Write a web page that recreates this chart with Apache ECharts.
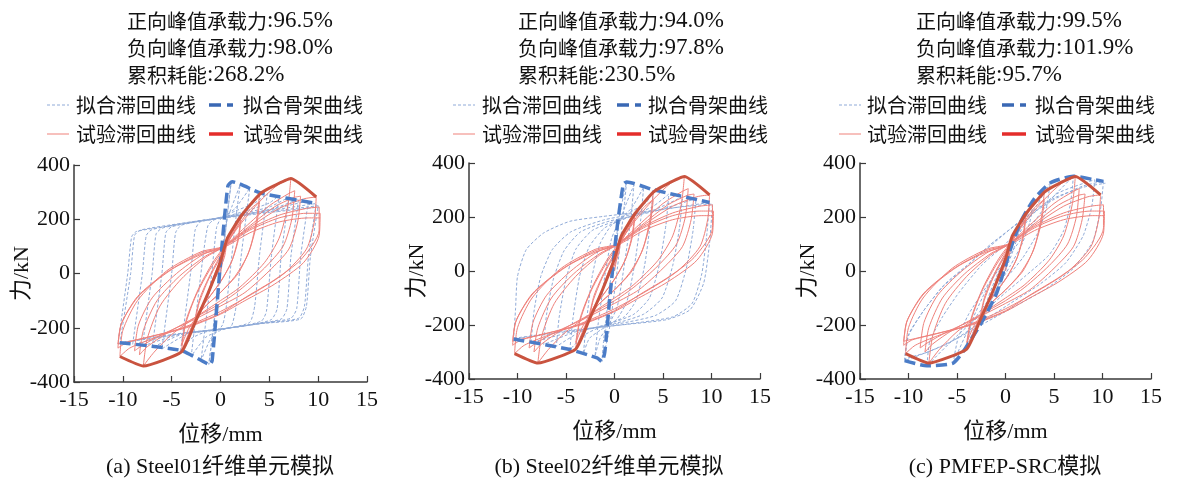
<!DOCTYPE html>
<html>
<head>
<meta charset="utf-8">
<script src="https://cdn.jsdelivr.net/npm/echarts@6/dist/echarts.min.js"></script>
<style>html,body{margin:0;padding:0;background:#fff}#c{width:1179px;height:481px}</style>
</head>
<body>
<div id="c"></div>
<script>
// ---------------- DATA ----------------
const captions = ['(a) Steel01纤维单元模拟', '(b) Steel02纤维单元模拟', '(c) PMFEP-SRC模拟'];
const posPeakRatio = ['96.5%', '94.0%', '99.5%'];
const negPeakRatio = ['98.0%', '97.8%', '101.9%'];
const energyRatio = ['268.2%', '230.5%', '95.7%'];
const statLabels = ['正向峰值承载力', '负向峰值承载力', '累积耗能'];
const legendNames = ['拟合滞回曲线', '拟合骨架曲线', '试验滞回曲线', '试验骨架曲线'];
const xLabelName = '位移/mm';
const yLabelName = '力/kN';
const xRange = [-15, 15, 5];
const yRange = [-400, 400, 200];

// experimental hysteresis path (same in every panel)
const testLoop = [
  [0,0],[0.3,60],[0.7,130],
  [0.4,60],[-0.3,0],[-0.9,-40],[-1.3,-75],
  [-0.8,-20],[0,50],[0.5,100],[1.2,160],[2.1,212],
  [1.8,130],[1.2,50],[0.2,-20],[-1,-80],[-1.9,-125],[-2.6,-180],
  [-2.2,-110],[-1.2,-20],[0,60],[0.6,100],[1.3,150],[2.1,195],
  [1.8,120],[1.1,40],[0,-30],[-1.2,-90],[-2,-125],[-2.6,-165],
  [-2.1,-90],[-1,0],[0.2,80],[1.2,150],[2.5,225],[3.4,270],[4.0,292],
  [3.7,200],[3.0,90],[1.8,0],[0,-70],[-1.8,-130],[-3,-200],[-4.0,-289],
  [-3.6,-190],[-2.5,-80],[-1,20],[0.3,90],[1.5,160],[3,235],[4.0,265],
  [3.7,180],[2.8,70],[1.5,-10],[0,-70],[-1.8,-130],[-3.2,-200],[-4.0,-265],
  [-3.5,-170],[-2.3,-60],[-0.8,40],[0.3,95],[2,180],[4,265],[5.8,325],[7.2,350],
  [6.9,250],[6.0,130],[4.5,40],[2,-50],[0,-100],[-2.5,-160],[-5,-225],[-6.8,-290],[-7.9,-341],
  [-7.5,-240],[-6.2,-120],[-4,-20],[-1.5,60],[0.3,98],[2.5,170],[5,250],[7,295],[7.6,305],
  [7.3,200],[6.4,100],[4.5,20],[2,-60],[0,-110],[-2.5,-160],[-5.5,-220],[-7.5,-270],[-8.3,-300],
  [-7.9,-210],[-6.5,-100],[-4.2,-10],[-1.5,65],[0.3,98],[2.8,170],[5.5,245],[7.5,280],[8.2,285],
  [7.9,190],[7,90],[5,10],[2.5,-70],[0,-120],[-3,-175],[-6,-225],[-8,-265],[-8.8,-285],
  [-8.4,-190],[-7,-90],[-4.5,0],[-1.8,70],[0.3,100],[3,170],[6,240],[8.5,275],[9.8,282],
  [9.6,190],[8.8,90],[6.5,0],[3.5,-70],[0,-140],[-3.5,-195],[-7,-240],[-9.3,-275],[-10.3,-306],
  [-10,-210],[-8.5,-100],[-5.5,10],[-2,80],[0.3,100],[3,165],[6,215],[8.8,240],[10.1,245],
  [10.1,160],[8.2,50],[5.5,-24],[2.7,-85],[0,-147],[-3.4,-196],[-7.2,-233],[-9.6,-255],[-10.5,-275],
  [-10.2,-190],[-8.5,-85],[-5.5,5],[-2,75],[0.3,98],[3,160],[6,205],[8.8,222],[10.2,222],
  [10.1,140],[8.5,40],[5.5,-40],[2.5,-100],[0,-150],[-3.5,-200],[-7.5,-235],[-10.5,-260],
  [-10.1,-180],[-8.3,-80],[-5,15],[-2,70],[0.3,95],[3,150],[6,190],[9,205],[10.2,205]
];
const testSkeleton = [[-10.3,-306],[-7.9,-341],[-4.0,-289],[-2.6,-180],[-1.3,-75],[0,45],[0.7,130],[2.1,212],[4.0,292],[5.3,320],[7.2,350],[9.8,282]];

// fitted hysteresis, panel (a) Steel01
const fitLoopA = [
  [0,0],[1.1,338],
  [0.9,280],[-0.3,-60],[-1.0,-280],[-1.2,-335],
  [-1.0,-280],[0.4,120],[0.7,200],[1.2,250],[2,326],
  [1.5,180],[0.6,-120],[0.2,-190],[-1,-240],[-2,-322],
  [-0.9,0],[-0.4,170],[0,200],[1.5,240],[3,315],
  [2.1,60],[1.6,-120],[1.1,-195],[0,-210],[-1.5,-235],[-3,-305],
  [-1.8,60],[-1.3,175],[-0.8,195],[1.5,230],[3.5,260],[4.8,295],
  [4.0,70],[3.5,-120],[3.0,-180],[1,-200],[-1.5,-215],[-3,-240],[-4.1,-288],
  [-3,20],[-2.6,160],[-2.1,190],[0,205],[3,235],[5,260],[6,288],
  [5.2,60],[4.7,-140],[4.2,-175],[2,-195],[-1,-210],[-3.5,-225],[-6,-278],
  [-5,0],[-4.6,150],[-4,178],[-1,200],[2,220],[5,245],[7,281],
  [6.2,60],[5.8,-130],[5.2,-170],[3,-190],[0,-205],[-4,-225],[-7,-273],
  [-6,0],[-5.6,150],[-5,172],[-2,195],[2,215],[5.5,240],[8,275],
  [7.2,60],[6.8,-130],[6.2,-168],[3,-190],[0,-205],[-4,-222],[-8,-268],
  [-7,0],[-6.6,145],[-6,167],[-3,188],[1,210],[5,235],[9,268],
  [8.2,60],[7.8,-130],[7.2,-165],[4,-185],[0,-205],[-4,-220],[-9,-262],
  [-8,0],[-7.6,140],[-7,162],[-3,190],[1,210],[5,232],[9.8,258],
  [9,60],[8.6,-120],[8,-165],[4,-185],[0,-205],[-5,-225],[-10.3,-255],
  [-9.2,0],[-8.8,140],[-8.2,160],[-4,185],[0,205],[5,228],[10,250],
  [9.2,60],[8.8,-120],[8.2,-168],[4,-185],[0,-205],[-5,-228],[-10.5,-258],
  [-9.5,0],[-9.1,135],[-8.6,155],[-4,182],[0,203],[5,225],[10.1,245]
];
const fitSkeletonA = [[-10.3,-255],[-4.1,-283],[-2.0,-320],[-1.1,-336],[-0.85,-320],[0,40],[0.75,322],[1.2,338],[4.1,297],[9.9,258]];

// fitted hysteresis, panel (b) Steel02
const fitLoopB = [
  [0,0],[0.5,200],[1.25,330],
  [1.0,240],[0.2,-20],[-0.6,-230],[-1.3,-335],
  [-1.1,-250],[-0.3,0],[0.3,150],[1.0,230],[2,318],
  [1.7,200],[1.0,20],[0.3,-130],[-0.6,-200],[-1.5,-250],[-2,-315],
  [-1.7,-200],[-1.0,-20],[-0.3,120],[0.6,190],[1.8,235],[3,310],
  [2.7,190],[2.1,30],[1.3,-110],[0.2,-180],[-1.5,-220],[-2.6,-250],[-3.2,-305],
  [-2.9,-190],[-2.3,-20],[-1.5,100],[-0.3,170],[1.5,215],[3.3,255],[4.0,301],
  [3.7,180],[3.1,20],[2.2,-110],[1,-170],[-1,-200],[-3,-235],[-4.6,-291],
  [-4.3,-180],[-3.6,-20],[-2.6,90],[-1,160],[1.5,200],[4,240],[5.6,285],
  [5.3,170],[4.6,20],[3.6,-100],[2,-160],[-0.5,-195],[-3.5,-225],[-6,-280],
  [-5.7,-170],[-5.0,-30],[-4,80],[-2.3,150],[0.5,190],[4,225],[7,275],
  [6.7,160],[6,20],[4.9,-100],[3,-160],[0,-195],[-4,-225],[-7.3,-272],
  [-7,-160],[-6.3,-30],[-5.2,75],[-3.5,145],[-0.5,185],[4,220],[8.4,268],
  [8.1,150],[7.4,10],[6.3,-110],[4.2,-165],[0.5,-195],[-4,-222],[-8.6,-265],
  [-8.3,-150],[-7.6,-20],[-6.4,80],[-4.5,145],[-1,190],[4,222],[9.8,254],
  [9.5,130],[9.0,-10],[8.0,-120],[6,-170],[1,-198],[-4,-220],[-10.4,-252],
  [-10.2,-140],[-10.0,-20],[-9.1,79],[-7.3,141],[-4.6,184],[-1.2,202],[3,220],[7,238],[10.1,248],
  [9.8,104],[9.2,-44],[7.8,-143],[5.4,-180],[0.9,-199],[-3.9,-217],[-10.5,-250]
];
const fitSkeletonB = [[-10.4,-252],[-4.6,-291],[-1.8,-322],[-1.3,-335],[-1.0,-300],[-0.5,-106],[0.2,141],[0.9,320],[1.25,330],[4.0,301],[9.8,254]];

// fitted hysteresis, panel (c) PMFEP-SRC
const fitLoopC = [
  [0,0],[0.5,79],
  [0.2,30],[-0.4,-30],[-0.9,-81],
  [-0.5,-20],[0.3,70],[0.9,130],[1.5,178],
  [1.1,110],[0.3,30],[-0.6,-40],[-1.5,-110],[-2.3,-180],
  [-1.8,-100],[-0.8,-10],[0.5,80],[1.7,170],[2.9,264],
  [2.5,180],[1.7,100],[0.5,20],[-1,-70],[-2.6,-170],[-4.0,-279],
  [-3.5,-190],[-2.4,-100],[-1,0],[0.7,100],[2.5,200],[4.6,326],
  [4.2,230],[3.3,140],[1.8,50],[0,-30],[-1.8,-110],[-3.6,-200],[-5.4,-341],
  [-4.9,-250],[-3.8,-160],[-2,-60],[0,40],[2.5,160],[4.8,270],[7,351],
  [6.7,250],[6,150],[4.5,60],[2,-20],[0,-80],[-2.5,-160],[-5,-240],[-8.1,-351],
  [-7.8,-260],[-6.5,-170],[-4.8,-80],[-2.5,20],[0,100],[2.5,200],[5.5,290],[9.2,338],
  [8.9,240],[8,130],[6.2,30],[3.5,-50],[0.5,-120],[-2.5,-190],[-6,-270],[-10.4,-332],
  [-10,-240],[-8.5,-150],[-6.5,-60],[-4.4,5],[-1.5,100],[1.8,190],[5,265],[8,315],[10.1,332],
  [9.8,230],[9,110],[7,10],[4,-70],[1,-130],[-2,-190],[-5,-250],[-8,-300],[-10.4,-325],
  [-10,-235],[-8.3,-140],[-6.3,-50],[-4,20],[-1,110],[2,200],[5,270],[8,310],[10.3,325]
];
const fitSkeletonC = [[-10.4,-332],[-8.1,-351],[-5.4,-341],[-4.0,-279],[-2.3,-180],[-0.9,-81],[0.5,79],[1.5,178],[2.9,264],[4.6,326],[7.0,351],[9.2,338],[10.1,332]];

const fitLoops = [fitLoopA, fitLoopB, fitLoopC];
const fitSkeletons = [fitSkeletonA, fitSkeletonB, fitSkeletonC];

// ---------------- LAYOUT / STYLE ----------------
const FONT = "'Liberation Serif','Noto Sans CJK SC',serif";
const grids = [
  {left: 74, top: 165, width: 293, height: 217},
  {left: 469, top: 163, width: 291, height: 216},
  {left: 860, top: 163, width: 291, height: 216}
];
const textX = [127, 518, 916];
const legX = [
  {s1: 47, t1: 76, s2: 209, t2: 243},
  {s1: 453, t1: 482, s2: 617, t2: 648},
  {s1: 839, t1: 867, s2: 1002, t2: 1035}
];
const captionX = [220, 609, 1005];
const C = {
  fitThin: '#8faad8', fitThick: '#4b7cc7', testThin: '#ef817b', testThick: '#c9533f',
  legFitThick: '#3a68b4', legTestThick: '#e42d2b', axis: '#3a3a3a', text: '#111'
};

const xAxes = [], yAxes = [], series = [], graphics = [];
grids.forEach((g, i) => {
  xAxes.push({
    type: 'value', gridIndex: i, min: xRange[0], max: xRange[1], interval: xRange[2],
    name: xLabelName, nameLocation: 'middle', nameGap: 42, nameMoveOverlap: false,
    nameTextStyle: {fontFamily: FONT, fontSize: 22, color: C.text},
    axisLine: {onZero: false, lineStyle: {color: C.axis, width: 1.5}},
    axisTick: {inside: true, length: 6, lineStyle: {color: C.axis, width: 1.2}},
    axisLabel: {fontFamily: FONT, fontSize: 22, color: C.text, margin: 7},
    splitLine: {show: false}
  });
  yAxes.push({
    type: 'value', gridIndex: i, min: yRange[0], max: yRange[1], interval: yRange[2],
    name: yLabelName, nameLocation: 'middle', nameGap: 41, nameRotate: 90, nameMoveOverlap: false,
    nameTextStyle: {fontFamily: FONT, fontSize: 22, color: C.text},
    axisLine: {onZero: false, lineStyle: {color: C.axis, width: 1.5}},
    axisTick: {inside: true, length: 6, lineStyle: {color: C.axis, width: 1.2}},
    axisLabel: {fontFamily: FONT, fontSize: 22, color: C.text, margin: 4},
    splitLine: {show: false}
  });
  series.push({
    name: legendNames[0], type: 'line', xAxisIndex: i, yAxisIndex: i, data: fitLoops[i],
    showSymbol: false, smooth: 0.2, z: 2,
    lineStyle: {color: C.fitThin, width: 1, type: [3, 2]}
  });
  series.push({
    name: legendNames[2], type: 'line', xAxisIndex: i, yAxisIndex: i, data: testLoop,
    showSymbol: false, smooth: 0.25, z: 3,
    lineStyle: {color: C.testThin, width: 1}
  });
  series.push({
    name: legendNames[1], type: 'line', xAxisIndex: i, yAxisIndex: i, data: fitSkeletons[i],
    showSymbol: false, smooth: 0.2, z: 4,
    lineStyle: {color: C.fitThick, width: 3.5, type: [11, 5]}
  });
  series.push({
    name: legendNames[3], type: 'line', xAxisIndex: i, yAxisIndex: i, data: testSkeleton,
    showSymbol: false, smooth: 0.15, z: 5,
    lineStyle: {color: C.testThick, width: 3}
  });

  // annotation text (CJK part + Latin part)
  const vals = [posPeakRatio[i], negPeakRatio[i], energyRatio[i]];
  vals.forEach((v, k) => {
    graphics.push({type: 'text', x: textX[i], y: 21 + 27 * k,
      style: {
        text: '{c|' + statLabels[k] + '}{n|:' + v + '}',
        verticalAlign: 'middle', textVerticalAlign: 'middle',
        rich: {
          c: {fontFamily: "'Noto Sans CJK SC'", fontSize: 20, fill: C.text, color: C.text, verticalAlign: 'middle'},
          n: {fontFamily: "'Liberation Serif'", fontSize: 23, fill: C.text, color: C.text, verticalAlign: 'middle'}
        }
      }});
  });
  // legend
  const L = legX[i];
  const rows = [105, 134];
  graphics.push({type: 'line', shape: {x1: L.s1, y1: rows[0], x2: L.s1 + 22, y2: rows[0]},
    style: {stroke: C.fitThin, lineWidth: 1, lineDash: [3, 2]}});
  graphics.push({type: 'line', shape: {x1: L.s2, y1: rows[0], x2: L.s2 + 24, y2: rows[0]},
    style: {stroke: C.legFitThick, lineWidth: 3.5, lineDash: [12, 6]}});
  graphics.push({type: 'line', shape: {x1: L.s1, y1: rows[1], x2: L.s1 + 22, y2: rows[1]},
    style: {stroke: C.testThin, lineWidth: 1}});
  graphics.push({type: 'line', shape: {x1: L.s2, y1: rows[1], x2: L.s2 + 24, y2: rows[1]},
    style: {stroke: C.legTestThick, lineWidth: 3.5}});
  [[L.t1, rows[0], legendNames[0]], [L.t2, rows[0], legendNames[1]],
   [L.t1, rows[1], legendNames[2]], [L.t2, rows[1], legendNames[3]]].forEach(([x, y, t]) => {
    graphics.push({type: 'text', x: x, y: y,
      style: {text: t, font: "20px 'Noto Sans CJK SC'", fill: C.text, textVerticalAlign: 'middle', verticalAlign: 'middle'}});
  });
  // caption
  graphics.push({type: 'text', x: captionX[i], y: 467,
    style: {text: captions[i], font: '22px ' + FONT, fill: C.text, textAlign: 'center', align: 'center', verticalAlign: 'middle', textVerticalAlign: 'middle'}});
});

const chart = echarts.init(document.getElementById('c'), null, {renderer: 'canvas'});
chart.setOption({
  animation: false,
  backgroundColor: '#fff',
  grid: grids,
  xAxis: xAxes,
  yAxis: yAxes,
  series: series,
  graphic: graphics
});
</script>
</body>
</html>
